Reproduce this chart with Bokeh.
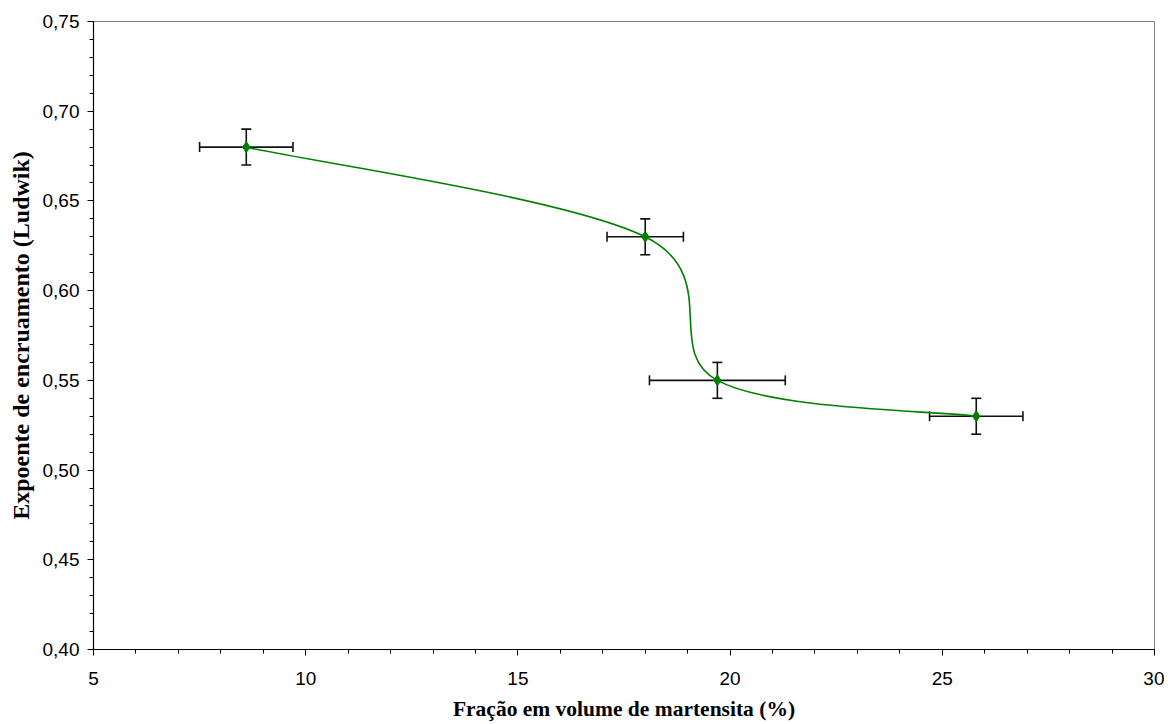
from bokeh.plotting import figure
from bokeh.models import Range1d, FixedTicker, CustomJSTickFormatter, ColumnDataSource, Whisker, TeeHead
from bokeh.embed import file_html
from bokeh.resources import INLINE

# ---- data ----
frac_martensite = [8.6, 18.0, 19.7, 25.8]
expoente_n = [0.68, 0.63, 0.55, 0.53]
frac_err = [1.1, 0.9, 1.6, 1.1]
n_err = [0.01, 0.01, 0.01, 0.01]

x_ticks = [5, 10, 15, 20, 25, 30]
y_ticks = [0.40, 0.45, 0.50, 0.55, 0.60, 0.65, 0.70, 0.75]

X0, X1 = 5, 30
Y0, Y1 = 0.40, 0.75
FRAME_W, FRAME_H = 1061, 628

p = figure(width=1164, height=724, output_backend="svg", toolbar_location=None,
           x_range=Range1d(X0, X1), y_range=Range1d(Y0, Y1),
           min_border_left=93, min_border_top=21, min_border_right=10, min_border_bottom=75)
p.grid.visible = False
p.outline_line_color = "#808080"
p.outline_line_width = 1
p.background_fill_color = "white"
p.border_fill_color = "white"

# smoothed line (Excel-like cardinal bezier computed in screen space)
kx = FRAME_W / (X1 - X0)
ky = FRAME_H / (Y1 - Y0)
P = [(x * kx, y * ky) for x, y in zip(frac_martensite, expoente_n)]
n = len(P)
bx0, by0, bx1, by1, bcx0, bcy0, bcx1, bcy1 = ([] for _ in range(8))
for i in range(n - 1):
    prev = P[i - 1] if i > 0 else P[i]
    nxt2 = P[i + 2] if i + 2 < n else P[i + 1]
    c0 = (P[i][0] + (P[i + 1][0] - prev[0]) / 6, P[i][1] + (P[i + 1][1] - prev[1]) / 6)
    c1 = (P[i + 1][0] - (nxt2[0] - P[i][0]) / 6, P[i + 1][1] - (nxt2[1] - P[i][1]) / 6)
    bx0.append(P[i][0] / kx); by0.append(P[i][1] / ky)
    bx1.append(P[i + 1][0] / kx); by1.append(P[i + 1][1] / ky)
    bcx0.append(c0[0] / kx); bcy0.append(c0[1] / ky)
    bcx1.append(c1[0] / kx); bcy1.append(c1[1] / ky)
p.bezier(x0=bx0, y0=by0, x1=bx1, y1=by1, cx0=bcx0, cy0=bcy0, cx1=bcx1, cy1=bcy1,
         line_color="#008000", line_width=1.6)

# error bars
src = ColumnDataSource(dict(
    x=frac_martensite, y=expoente_n,
    xl=[a - e for a, e in zip(frac_martensite, frac_err)],
    xu=[a + e for a, e in zip(frac_martensite, frac_err)],
    yl=[a - e for a, e in zip(expoente_n, n_err)],
    yu=[a + e for a, e in zip(expoente_n, n_err)],
))
wx = Whisker(base="y", lower="xl", upper="xu", dimension="width", source=src,
             line_color="#111111", line_width=1.6,
             lower_head=TeeHead(size=10, line_color="#111111", line_width=1.6),
             upper_head=TeeHead(size=10, line_color="#111111", line_width=1.6))
wy = Whisker(base="x", lower="yl", upper="yu", dimension="height", source=src,
             line_color="#111111", line_width=1.6,
             lower_head=TeeHead(size=10, line_color="#111111", line_width=1.6),
             upper_head=TeeHead(size=10, line_color="#111111", line_width=1.6))
p.add_layout(wx)
p.add_layout(wy)

p.scatter("x", "y", source=src, marker="diamond", size=11,
          fill_color="#008000", line_color="#008000")

# axes
p.xaxis.ticker = FixedTicker(ticks=x_ticks, minor_ticks=list(range(5, 31)))
p.yaxis.ticker = FixedTicker(ticks=y_ticks, minor_ticks=[round(0.40 + 0.01 * i, 2) for i in range(36)])
p.yaxis.formatter = CustomJSTickFormatter(code="return tick.toFixed(2).replace('.', ',');")
p.xaxis.formatter = CustomJSTickFormatter(code="return tick.toFixed(0);")

for ax in (p.xaxis, p.yaxis):
    ax.axis_line_color = "black"
    ax.axis_line_width = 1.2
    ax.major_tick_line_color = "black"
    ax.minor_tick_line_color = "black"
    ax.major_tick_in = 0
    ax.major_tick_out = 6
    ax.minor_tick_in = 0
    ax.minor_tick_out = 4
    ax.major_label_text_font = "Liberation Sans"
    ax.major_label_text_font_size = "19px"
    ax.major_label_text_color = "black"
    ax.axis_label_text_font = "Liberation Serif"
    ax.axis_label_text_font_style = "bold"
    ax.axis_label_text_color = "black"

p.xaxis.axis_label_text_font_size = "21.5px"
p.yaxis.axis_label_text_font_size = "24px"
p.xaxis.major_label_standoff = 16
p.yaxis.major_label_standoff = 8
p.xaxis.axis_label = "Fração em volume de martensita (%)"
p.yaxis.axis_label = "Expoente de encruamento (Ludwik)"
p.xaxis.axis_label_standoff = 9
p.yaxis.axis_label_standoff = 6

open("out.html", "w").write(file_html(p, INLINE))
